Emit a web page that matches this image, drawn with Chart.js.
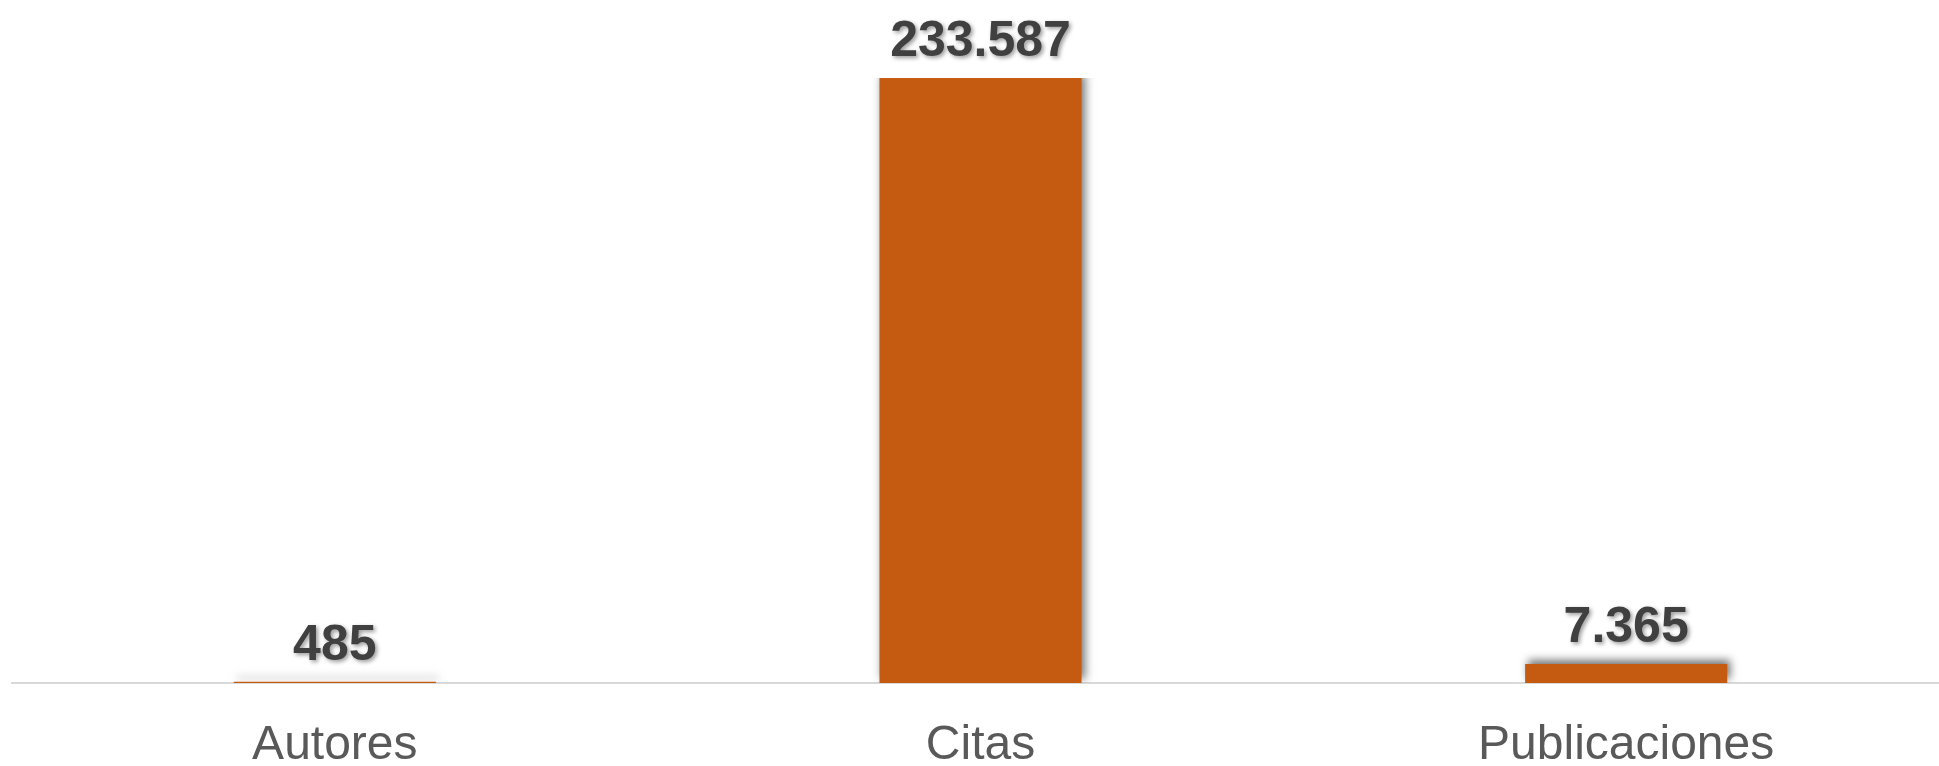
<!DOCTYPE html>
<html>
<head>
<meta charset="utf-8">
<script src="https://cdn.jsdelivr.net/npm/chart.js@4/dist/chart.umd.min.js"></script>
<style>
  html, body { margin: 0; padding: 0; background: #fff; overflow: hidden; }
  #wrap { width: 1949px; height: 766px; position: relative; }
</style>
</head>
<body>
<div id="wrap"><canvas id="myChart"></canvas></div>
<script>
const categories = ['Autores', 'Citas', 'Publicaciones'];
const values = [485, 233587, 7365];

// thousands with a dot, also for 4 digits (7.365)
function fmt(v) {
  return String(v).replace(/\B(?=(\d{3})+(?!\d))/g, '.');
}

// shadow under the bars
const barShadow = {
  id: 'barShadow',
  beforeDatasetsDraw(chart) {
    const ctx = chart.ctx;
    ctx.save();
    ctx.shadowColor = 'rgba(0,0,0,0.55)';
    ctx.shadowBlur = 9;
    ctx.shadowOffsetX = 3;
    ctx.shadowOffsetY = -4;
  },
  afterDatasetsDraw(chart) {
    chart.ctx.restore();
  }
};

// value labels above the bars
const valueLabels = {
  id: 'valueLabels',
  afterDatasetsDraw(chart) {
    const ctx = chart.ctx;
    const meta = chart.getDatasetMeta(0);
    ctx.save();
    ctx.font = 'bold 50px "Liberation Sans", Arial, sans-serif';
    ctx.fillStyle = '#404040';
    ctx.textAlign = 'center';
    ctx.textBaseline = 'alphabetic';
    ctx.shadowColor = 'rgba(0,0,0,0.4)';
    ctx.shadowBlur = 4;
    ctx.shadowOffsetX = 2;
    ctx.shadowOffsetY = 2;
    meta.data.forEach(function (bar, i) {
      ctx.fillText(fmt(values[i]), bar.x, bar.y - 22);
    });
    ctx.restore();
  }
};

const data = {
  labels: categories,
  datasets: [
    {
      data: values,
      backgroundColor: '#C55A11',
      borderWidth: 0,
      barPercentage: 0.313,
      categoryPercentage: 1
    }
  ]
};

const config = {
  type: 'bar',
  data: data,
  options: {
    responsive: true,
    maintainAspectRatio: false,
    animation: false,
    layout: { padding: { left: 12, right: 0, top: 78, bottom: 0 } },
    plugins: {
      legend: { display: false },
      tooltip: { enabled: false }
    },
    scales: {
      x: {
        grid: { display: false, drawTicks: false },
        border: { display: true, color: '#d9d9d9', width: 2 },
        ticks: {
          color: '#595959',
          padding: 34,
          font: { family: '"Liberation Sans", Arial, sans-serif', size: 48 }
        },
        afterFit(scale) {
          scale.height = 83;
        }
      },
      y: {
        display: false,
        min: 0,
        max: 233587
      }
    }
  },
  plugins: [barShadow, valueLabels]
};

var ctx = document.getElementById('myChart');
var myChart = new Chart(ctx, config);
</script>
</body>
</html>
